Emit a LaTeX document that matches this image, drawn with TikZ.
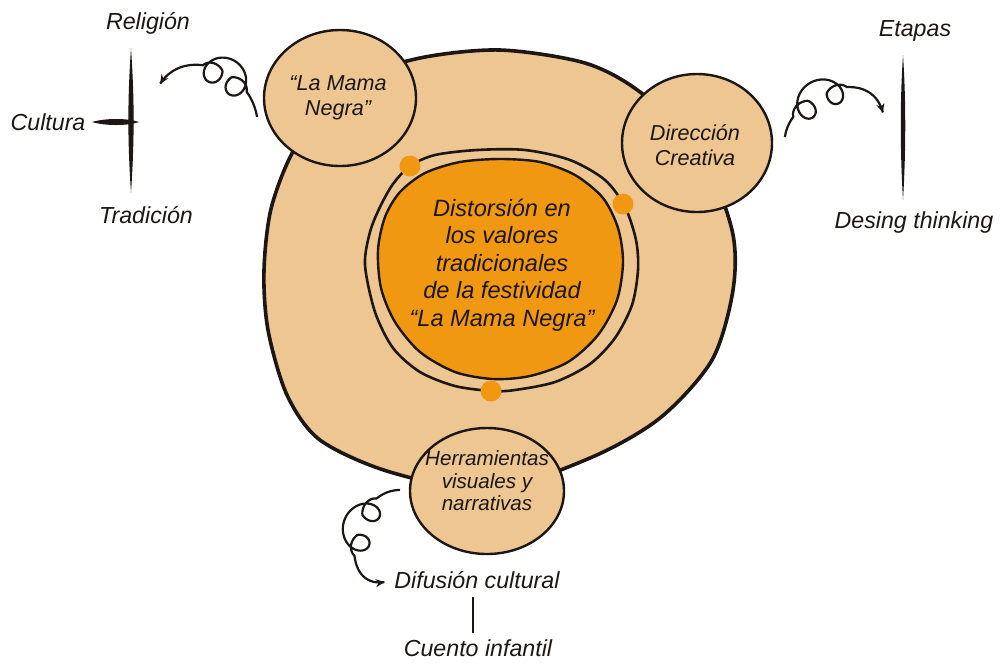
\documentclass[tikz,border=0pt]{standalone}
\usepackage{fontspec}
\setmainfont{Liberation Sans}
\usetikzlibrary{arrows.meta,shapes.geometric}
\definecolor{tanf}{RGB}{237,198,146}
\definecolor{orng}{RGB}{241,152,19}
\definecolor{ink}{RGB}{28,22,20}
\pgfmathdeclarefunction{bz}{5}{\pgfmathparse{(1-#1)*(1-#1)*(1-#1)*#2+3*(1-#1)*(1-#1)*#1*#3+3*(1-#1)*#1*#1*#4+#1*#1*#1*#5}}
\pgfmathdeclarefunction{envl}{3}{\pgfmathparse{min(1,3*sin(180*max(0,min(1,(#1-#2)/(#3-#2)))))}}
\pgfmathdeclarefunction{psil}{5}{\pgfmathparse{#4+#5*720*(#1-#2)/(#3-#2)}}
\tikzset{
  lbl/.style={font=\fontsize{11.6pt}{14pt}\selectfont\itshape, text=ink, inner sep=0pt},
  circtxt/.style={font=\fontsize{10.8pt}{12.5pt}\selectfont\itshape, text=ink, align=center, inner sep=0pt},
  coretxt/.style={font=\fontsize{11.8pt}{13.75pt}\selectfont\itshape, text=ink, align=center, inner sep=0pt},
  bubble/.style={ellipse, draw=ink, fill=tanf, line width=1.2pt, inner sep=0pt},
  dot/.style={circle, fill=orng, minimum size=10.5pt, inner sep=0pt},
  curl/.style={draw=ink, line width=1.1pt, -{Stealth[length=4.5pt,width=4pt]}},
  spindle/.style={fill=ink}
}
\begin{document}
\begin{tikzpicture}[x=0.5pt,y=-0.5pt]
\useasboundingbox (0,0) rectangle (1000,666);
% big blob
\draw[ink, line width=1.8pt, fill=tanf] plot[smooth cycle] coordinates {(500,50) (585,63) (640,92) (700,150) (732,230) (733,290) (712,360) (660,418) (590,458) (490,490) (390,472) (320,440) (287,395) (268,330) (264,270) (272,205) (300,140) (360,80) (420,58)};
% ring
\draw[ink, line width=1.3pt] plot[smooth cycle] coordinates {(365,265) (370,232) (380,207) (393,184) (410,166) (435,155) (477,150) (525,150) (570,160) (605,180) (625,207) (636,240) (638,270) (632,305) (615,338) (590,364) (555,382) (515,390) (492,391) (455,386) (420,372) (393,348) (375,312)};
% orange core
\draw[ink, line width=1.2pt, fill=orng] plot[smooth cycle] coordinates {(378,250) (385,217) (400,192) (425,173) (460,162) (500,159) (540,162) (575,175) (603,198) (618,228) (623,262) (617,300) (598,335) (568,362) (530,376) (493,379) (455,372) (420,352) (395,322) (381,288)};
\node[dot] (d1) at (410,166) {};
\node[dot] (d2) at (623,204) {};
\node[dot] (d3) at (491,391) {};
% bubbles
\node[bubble, minimum width=76pt, minimum height=68pt] (c1) at (340,98) {};
\node[bubble, minimum width=75pt, minimum height=69pt] (c2) at (697,143) {};
\node[bubble, minimum width=77pt, minimum height=63pt] (c3) at (487,491) {};
% texts
\node[coretxt] (core) at (502,265) {Distorsión en\\los valores\\tradicionales\\de la festividad\\“La Mama Negra”};
\node[circtxt] (t1) at (338,98) {“La Mama\\Negra”};
\node[circtxt] (t2) at (695,145) {Dirección\\Creativa};
\node[circtxt, font=\fontsize{10.3pt}{11.3pt}\selectfont\itshape] (t3) at (487,481) {Herramientas\\visuales y\\narrativas};
% left cluster
\node[lbl] (rel) at (148,23) {Religión};
\node[lbl] (cul) at (48,122) {Cultura};
\node[lbl] (tra) at (146,215) {Tradición};
\coordinate (lT) at (131,48);
\coordinate (lB) at (131,193);
\coordinate (hL) at (92,122);
\coordinate (hR) at (139,122);
\fill[spindle] (lT) .. controls (134.5,100) and (134.5,140) .. (lB) .. controls (127.5,140) and (127.5,100) .. (lT);
\fill[spindle] (hL) .. controls (105,126) and (128,126) .. (hR) .. controls (128,118) and (105,118) .. (hL);
% right cluster
\node[lbl] (eta) at (915,31) {Etapas};
\node[lbl] (des) at (914,222) {Desing thinking};
\coordinate (rT) at (903,55);
\coordinate (rB) at (903,200);
\fill[spindle] (rT) .. controls (906,100) and (906,150) .. (rB) .. controls (900,150) and (900,100) .. (rT);
% bottom cluster
\node[lbl] (dif) at (477,580) {Difusión cultural};
\node[lbl] (cue) at (478,648) {Cuento infantil};
\coordinate (bT) at (473,597);
\coordinate (bB) at (473,633);
\draw[ink, line width=1pt] (bT) -- (bB);
% curly arrows
\draw[curl] plot[domain=0:1, samples=400, variable=\t] ({bz(\t,257,250,185,160)+15*envl(\t,0.2,0.6)*cos(psil(\t,0.2,0.6,300,-1))},{bz(\t,117,70,45,84)+15*envl(\t,0.2,0.6)*sin(psil(\t,0.2,0.6,300,-1))});
\draw[curl] plot[domain=0:1, samples=400, variable=\t] ({bz(\t,785,790,870,883)+15*envl(\t,0.17,0.62)*cos(psil(\t,0.17,0.62,-124,1))},{bz(\t,137,95,62,113)+15*envl(\t,0.17,0.62)*sin(psil(\t,0.17,0.62,-124,1))});
\draw[curl] plot[domain=0:1, samples=400, variable=\t] ({bz(\t,400,350,335,385)+15*envl(\t,0.18,0.62)*cos(psil(\t,0.18,0.62,206,-1))},{bz(\t,490,490,590,582)+15*envl(\t,0.18,0.62)*sin(psil(\t,0.18,0.62,206,-1))});
\end{tikzpicture}
\end{document}
